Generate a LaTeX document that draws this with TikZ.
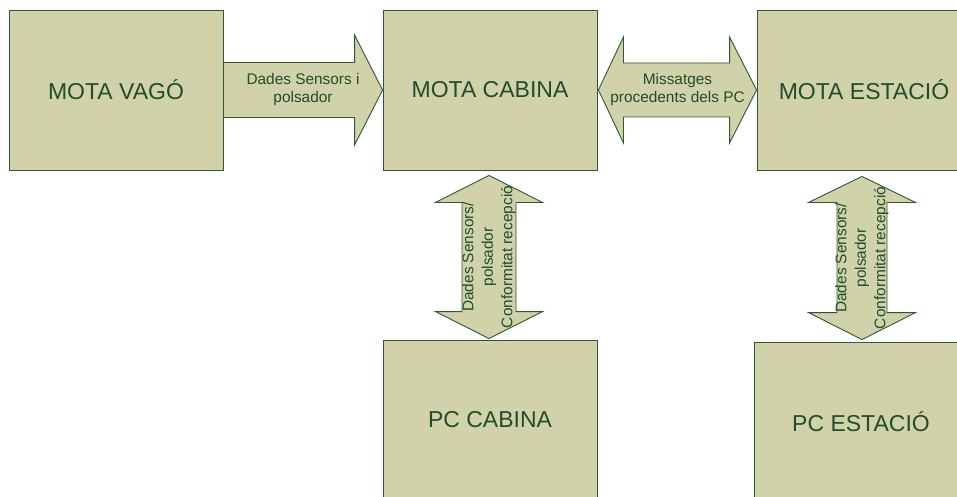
\documentclass[tikz,border=0pt]{standalone}
\usepackage{fontspec}
\setmainfont{Liberation Sans}
\usetikzlibrary{calc}
\definecolor{boxfill}{RGB}{209,210,170}
\definecolor{boxline}{RGB}{45,88,52}
\definecolor{boxtext}{RGB}{30,78,44}
\begin{document}
\begin{tikzpicture}[x=1pt,y=-1pt,
  unit/.style={draw=boxline, fill=boxfill, line width=0.9pt,
    minimum width=214pt, minimum height=160pt, inner sep=0pt,
    text=boxtext, font=\fontsize{23}{27}\selectfont},
  blockarrow/.style={draw=boxline, fill=boxfill, line width=0.9pt, line join=miter},
  lbl/.style={text=boxtext, font=\fontsize{15.4}{18}\selectfont, align=center, inner sep=0pt},
  vlbl/.style={text=boxtext, font=\fontsize{15.4}{19.5}\selectfont, align=center, inner sep=0pt, rotate=90}]
\useasboundingbox (0,0) rectangle (957,497);
\fill[white] (0,0) rectangle (957,497);
\clip (0,0) rectangle (957,497);

% units
\node[unit] (vago)    at (116,90)  {MOTA VAGÓ};
\node[unit] (cabina)  at (490,90)  {MOTA CABINA};
\node[unit] (estacio) at (864,90)  {MOTA ESTACIÓ};
\node[unit] (pccab)   at (490,420) {PC CABINA};
\node[unit] (pcest)   at (861,422) {PC ESTACIÓ};

% end points of the vertical links
\coordinate (c1) at ($(cabina.south)+(-1,5)$);
\coordinate (c2) at ($(pccab.north)+(-1,-1)$);
\coordinate (e1) at ($(estacio.south)+(-2,6)$);
\coordinate (e2) at ($(pcest.north)+(1,-2)$);
\coordinate (m1) at ($(cabina.east)+(1,0)$);

% MOTA VAGO -> MOTA CABINA
\draw[blockarrow] let \p1=(vago.east), \p2=(cabina.west) in
  (\x1,\y1+27.5pt) -- (\x2-28pt,\y1+27.5pt) -- (\x2-28pt,\y1+55pt) -- (\x2,\y1)
  -- (\x2-28pt,\y1-55pt) -- (\x2-28pt,\y1-27.5pt) -- (\x1,\y1-27.5pt) -- cycle;
\node[lbl] (l1) at ($(vago.east)!0.5!(cabina.west)$) {Dades Sensors i\\polsador};

% MOTA CABINA <-> MOTA ESTACIO
\draw[blockarrow] let \p1=(m1), \p2=(estacio.west) in
  (\x1,\y1) -- (\x1+25pt,\y1+53pt) -- (\x1+25pt,\y1+27pt) -- (\x2-27pt,\y1+27pt)
  -- (\x2-27pt,\y1+53pt) -- (\x2,\y1) -- (\x2-27pt,\y1-53pt) -- (\x2-27pt,\y1-27pt)
  -- (\x1+25pt,\y1-27pt) -- (\x1+25pt,\y1-53pt) -- cycle;
\node[lbl] (l2) at ($(m1)!0.5!(estacio.west)$) {Missatges\\procedents dels PC};

% MOTA CABINA <-> PC CABINA
\draw[blockarrow] let \p1=(c1), \p2=(c2) in
  (\x1,\y1) -- (\x1+53.5pt,\y1-27pt) -- (\x1+27pt,\y1-27pt) -- (\x1+27pt,\y2+27pt)
  -- (\x1+53.5pt,\y2+27pt) -- (\x1,\y2) -- (\x1-53.5pt,\y2+27pt) -- (\x1-27pt,\y2+27pt)
  -- (\x1-27pt,\y1-27pt) -- (\x1-53.5pt,\y1-27pt) -- cycle;
\node[vlbl] (l3) at ($(c1)!0.5!(c2)$) {Dades Sensors/\\polsador\\Conformitat recepció};

% MOTA ESTACIO <-> PC ESTACIO
\draw[blockarrow] let \p1=(e1), \p2=(e2) in
  (\x1,\y1) -- (\x1+53.5pt,\y1-26pt) -- (\x1+25pt,\y1-26pt) -- (\x1+25pt,\y2+27pt)
  -- (\x1+53.5pt,\y2+27pt) -- (\x1,\y2) -- (\x1-53.5pt,\y2+27pt) -- (\x1-25pt,\y2+27pt)
  -- (\x1-25pt,\y1-26pt) -- (\x1-53.5pt,\y1-26pt) -- cycle;
\node[vlbl] (l4) at ($(e1)!0.5!(e2)$) {Dades Sensors/\\polsador\\Conformitat recepció};
\end{tikzpicture}
\end{document}
